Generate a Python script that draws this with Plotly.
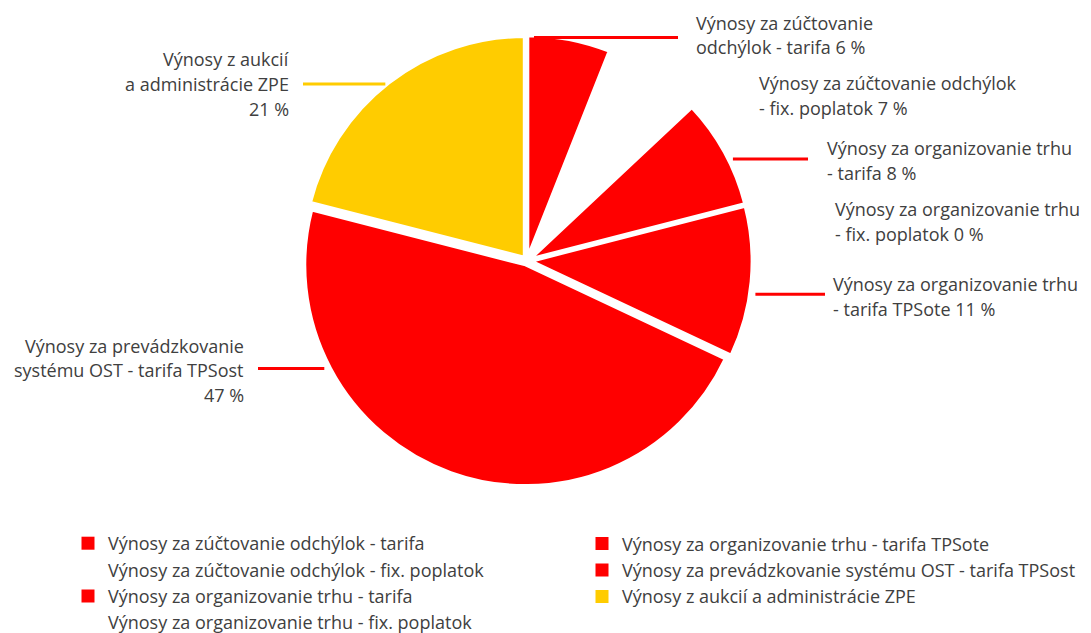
import numpy as np
import plotly.graph_objects as go

labels = [
    'Výnosy za zúčtovanie odchýlok - tarifa',
    'Výnosy za zúčtovanie odchýlok - fix. poplatok',
    'Výnosy za organizovanie trhu - tarifa',
    'Výnosy za organizovanie trhu - fix. poplatok',
    'Výnosy za organizovanie trhu - tarifa TPSote',
    'Výnosy za prevádzkovanie systému OST - tarifa TPSost',
    'Výnosy z aukcií a administrácie ZPE',
]
values = [6, 7, 8, 0, 11, 47, 21]
colors = ['#ff0000', '#ffffff', '#ff0000', '#ffffff', '#ff0000', '#ff0000', '#ffcc00']
label_lines = [
    ['Výnosy za zúčtovanie', 'odchýlok - tarifa 6 %'],
    ['Výnosy za zúčtovanie odchýlok', '- fix. poplatok 7 %'],
    ['Výnosy za organizovanie trhu', '- tarifa 8 %'],
    ['Výnosy za organizovanie trhu', '- fix. poplatok 0 %'],
    ['Výnosy za organizovanie trhu', '- tarifa TPSote 11 %'],
    ['Výnosy za prevádzkovanie', 'systému OST - tarifa TPSost', '47 %'],
    ['Výnosy z aukcií', 'a administrácie ZPE', '21 %'],
]
legend_cols = [[0, 1, 2, 3], [4, 5, 6]]

W, H = 1091, 633
OFF = 8  # page body margin
CX, CY, R = 527, 264, 228
TEXT = '#404040'
FONT = 'Open Sans'
FS = 18
LINE_H = 25

# label placement in pixels: (anchor x, first line y, side, leader y, gap to text)
label_pos = [
    (695, 23, 'left', 38, 17),
    (758, 84, 'left', 96, 0),
    (826, 150, 'left', 161, 18),
    (834, 212, 'left', 224, 0),
    (832, 288, 'left', 298, 7),
    (245, 350, 'right', 373, 13),
    (290, 60, 'right', 85, 13),
]


def px(x):
    return (x - OFF) / W


def py(y):
    return 1 - (y - OFF) / H


fig = go.Figure()
fig.add_trace(
    go.Pie(
        labels=labels,
        values=values,
        sort=False,
        direction='clockwise',
        rotation=0,
        pull=0.02,
        marker=dict(colors=colors, line=dict(color='white', width=3)),
        textinfo='none',
        hoverinfo='label+percent',
        showlegend=False,
        domain=dict(x=[px(CX - R), px(CX + R)], y=[py(CY + R), py(CY - R)]),
    )
)

for i, (lx, ly, side, ry, gap) in enumerate(label_pos):
    for k, line in enumerate(label_lines[i]):
        fig.add_annotation(
            x=px(lx), y=py(ly + k * LINE_H), xref='paper', yref='paper',
            text=line, showarrow=False, borderpad=0,
            xanchor=side, yanchor='middle', align=side,
            font=dict(family=FONT, size=FS, color=TEXT),
        )
    if colors[i] == '#ffffff':
        continue
    # leader line from pie edge (at leader height) towards label
    dy = ry - CY
    edge = np.sqrt(max(224 ** 2 - dy ** 2, 0))
    if side == 'left':
        x0, x1 = CX + edge + 7, lx - gap
    else:
        x0, x1 = lx + gap, CX - edge - 7
    fig.add_shape(
        type='line', xref='paper', yref='paper',
        x0=px(x0), x1=px(x1), y0=py(ry), y1=py(ry),
        line=dict(color=colors[i], width=3),
    )

# legend entries (two columns)
for li, col in enumerate(legend_cols):
    for i in col:
        fig.add_trace(
            go.Scatter(
                x=[None], y=[None], mode='markers', name=labels[i],
                marker=dict(symbol='square', size=13, color=colors[i]),
                legend='legend' if li == 0 else 'legend2',
            )
        )

legend_style = dict(
    font=dict(family=FONT, size=FS, color=TEXT),
    bgcolor='rgba(0,0,0,0)', traceorder='normal',
    xanchor='left', yanchor='top', tracegroupgap=0,
)
fig.update_layout(
    width=W, height=H,
    margin=dict(l=0, r=0, t=0, b=0),
    paper_bgcolor='white', plot_bgcolor='white',
    xaxis=dict(visible=False), yaxis=dict(visible=False),
    legend=dict(x=px(68), y=py(532), **legend_style),
    legend2=dict(x=px(582), y=py(532), **legend_style),
)

fig.write_html('out.html')
